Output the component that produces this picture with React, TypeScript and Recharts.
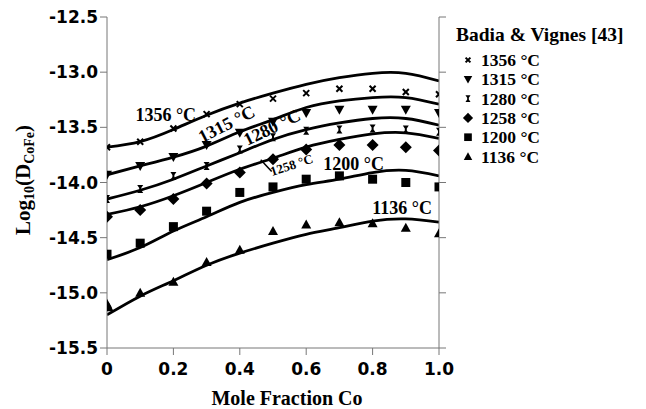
import React from 'react';
import { ComposedChart, Line, Scatter, XAxis, YAxis, ReferenceDot, ReferenceLine } from 'recharts';

const moleFractions = [0, 0.1, 0.2, 0.3, 0.4, 0.5, 0.6, 0.7, 0.8, 0.9, 1.0];
const xTicks = [0, 0.2, 0.4, 0.6, 0.8, 1.0];
const yTicks = [-15.5, -15.0, -14.5, -14.0, -13.5, -13.0, -12.5];

// fitted curves
const fit1356 = [-13.68, -13.63, -13.52, -13.39, -13.28, -13.19, -13.11, -13.05, -13.01, -13.01, -13.08];
const fit1315 = [-13.93, -13.85, -13.77, -13.67, -13.54, -13.43, -13.32, -13.26, -13.23, -13.23, -13.29];
const fit1280 = [-14.15, -14.07, -13.97, -13.85, -13.73, -13.61, -13.52, -13.46, -13.42, -13.42, -13.48];
const fit1258 = [-14.29, -14.22, -14.12, -14.0, -13.88, -13.78, -13.68, -13.61, -13.56, -13.55, -13.6];
const fit1200 = [-14.7, -14.59, -14.44, -14.31, -14.18, -14.09, -14.02, -13.97, -13.91, -13.89, -13.94];
const fit1136 = [-15.2, -15.03, -14.89, -14.75, -14.64, -14.55, -14.47, -14.41, -14.35, -14.33, -14.36];

// Badia & Vignes measurements
const pts1356 = [-13.68, -13.63, -13.51, -13.38, -13.29, -13.24, -13.19, -13.15, -13.15, -13.18, -13.2];
const pts1315 = [-13.93, -13.85, -13.77, -13.66, -13.55, -13.45, -13.37, -13.34, -13.34, -13.34, -13.37];
const pts1280 = [-14.15, -14.06, -13.94, -13.85, -13.7, -13.59, -13.53, -13.52, -13.51, -13.52, -13.54];
const pts1258 = [-14.31, -14.25, -14.15, -14.01, -13.91, -13.79, -13.7, -13.66, -13.66, -13.68, -13.71];
const pts1200 = [-14.65, -14.55, -14.4, -14.26, -14.09, -14.04, -13.97, -13.94, -13.97, -14.0, -14.04];
const pts1136 = [-15.1, -15.0, -14.9, -14.72, -14.61, -14.44, -14.38, -14.36, -14.37, -14.41, -14.46];

const legendTitle = 'Badia & Vignes [43]';
const tempLabels = ['1356 °C', '1315 °C', '1280 °C', '1258 °C', '1200 °C', '1136 °C'];

const rows = (vals: number[]) => moleFractions.map((x, i) => ({ x, y: vals[i] }));

const SERIF = '"Liberation Serif", "Times New Roman", serif';
const SANS = '"DejaVu Sans", Arial, sans-serif';
const AXIS = '#777';

type MarkerKind = 'cross' | 'down' | 'ibeam' | 'diamond' | 'square' | 'up';

const markerEl = (kind: MarkerKind, cx: number, cy: number, s = 1) => {
  switch (kind) {
    case 'cross':
      return (
        <g stroke="#000" strokeWidth={2}>
          <line x1={cx - 3 * s} y1={cy - 3 * s} x2={cx + 3 * s} y2={cy + 3 * s} />
          <line x1={cx - 3 * s} y1={cy + 3 * s} x2={cx + 3 * s} y2={cy - 3 * s} />
        </g>
      );
    case 'down':
      return <polygon points={`${cx - 5 * s},${cy - 4 * s} ${cx + 5 * s},${cy - 4 * s} ${cx},${cy + 5 * s}`} fill="#000" />;
    case 'ibeam':
      return (
        <polygon
          points={`${cx - 3 * s},${cy - 4 * s} ${cx + 3 * s},${cy - 4 * s} ${cx + 1 * s},${cy - 1 * s} ${cx + 1 * s},${cy + 1 * s} ${cx + 3 * s},${cy + 4 * s} ${cx - 3 * s},${cy + 4 * s} ${cx - 1 * s},${cy + 1 * s} ${cx - 1 * s},${cy - 1 * s}`}
          fill="#000"
        />
      );
    case 'diamond':
      return <polygon points={`${cx},${cy - 6 * s} ${cx + 6 * s},${cy} ${cx},${cy + 6 * s} ${cx - 6 * s},${cy}`} fill="#000" />;
    case 'square':
      return <rect x={cx - 4.5 * s} y={cy - 4.5 * s} width={9 * s} height={9 * s} fill="#000" />;
    case 'up':
    default:
      return <polygon points={`${cx - 5 * s},${cy + 4 * s} ${cx + 5 * s},${cy + 4 * s} ${cx},${cy - 5 * s}`} fill="#000" />;
  }
};

const shapeFor = (kind: MarkerKind) => (props: any) => markerEl(kind, props.cx, props.cy);

const series: { fit: number[]; pts: number[]; kind: MarkerKind }[] = [
  { fit: fit1356, pts: pts1356, kind: 'cross' },
  { fit: fit1315, pts: pts1315, kind: 'down' },
  { fit: fit1280, pts: pts1280, kind: 'ibeam' },
  { fit: fit1258, pts: pts1258, kind: 'diamond' },
  { fit: fit1200, pts: pts1200, kind: 'square' },
  { fit: fit1136, pts: pts1136, kind: 'up' },
];

// curve annotations: [x, y, text, rotation, fontSize]
const annotations: [number, number, string, number, number][] = [
  [0.177, -13.44, '1356 °C', 0, 18],
  [0.36, -13.47, '1315 °C', -27, 18],
  [0.497, -13.5, '1280 °C', -26, 18],
  [0.556, -13.84, '1258 °C', -18, 13],
  [0.743, -13.883, '1200 °C', 0, 18],
  [0.889, -14.29, '1136 °C', 0, 18],
];

const annShape = (text: string, rot: number, size: number) => (props: any) => {
  const { cx, cy } = props;
  if (rot === 0) {
    return (
      <text x={cx} y={cy} textAnchor="middle" fontFamily={SERIF} fontWeight="bold" fontSize={size} fill="#000">
        {text}
      </text>
    );
  }
  return (
    <text
      x={cx}
      y={cy}
      textAnchor="middle"
      dominantBaseline="central"
      transform={`rotate(${rot} ${cx} ${cy})`}
      fontFamily={SERIF}
      fontWeight="bold"
      fontSize={size}
      fill="#000"
    >
      {text}
    </text>
  );
};

const fmtX = (v: number) => (v === 0 ? '0' : v.toFixed(1));
const fmtY = (v: number) => v.toFixed(1);
const NoLabel = () => <g />;

const legendRows = [60, 79.3, 98.6, 117.9, 137.2, 156.5];

export default function App() {
  return (
    <div style={{ position: 'absolute', left: 0, top: 0, width: 646, height: 409, background: '#fff' }}>
      <ComposedChart width={646} height={409} margin={{ top: 17, right: 197, bottom: 31, left: 0 }}>
        <XAxis
          type="number"
          dataKey="x"
          domain={[0, 1]}
          ticks={xTicks}
          tickFormatter={fmtX}
          allowDataOverflow
          height={30}
          stroke={AXIS}
          tickSize={7}
          tickMargin={8}
          tick={{ fill: '#000', fontFamily: SANS, fontWeight: 'bold', fontSize: 17 }}
        />
        <YAxis
          yAxisId="left"
          type="number"
          dataKey="y"
          domain={[-15.5, -12.5]}
          ticks={yTicks}
          tickFormatter={fmtY}
          allowDataOverflow
          width={107}
          stroke={AXIS}
          tickSize={7}
          tickMargin={2}
          tick={{ fill: '#000', fontFamily: SANS, fontWeight: 'bold', fontSize: 17 }}
        />
        <YAxis
          yAxisId="right"
          orientation="right"
          type="number"
          dataKey="y"
          domain={[-15.5, -12.5]}
          ticks={yTicks}
          allowDataOverflow
          width={10}
          stroke={AXIS}
          tickSize={7}
          tick={NoLabel}
        />
        {series.map((s, i) => (
          <Line
            key={`fit${i}`}
            yAxisId="left"
            data={rows(s.fit)}
            dataKey="y"
            type="natural"
            stroke="#000"
            strokeWidth={2.8}
            dot={false}
            activeDot={false}
            isAnimationActive={false}
          />
        ))}
        {series.map((s, i) => (
          <Scatter
            key={`pts${i}`}
            yAxisId="left"
            data={rows(s.pts)}
            dataKey="y"
            shape={shapeFor(s.kind)}
            isAnimationActive={false}
          />
        ))}
        <Scatter yAxisId="left" data={[{ x: 0.005, y: -15.13 }]} dataKey="y" shape={shapeFor('up')} isAnimationActive={false} />
        <ReferenceLine
          yAxisId="left"
          segment={[{ x: 0.463, y: -13.793 }, { x: 0.496, y: -13.9 }]}
          stroke="#000"
          strokeWidth={1.5}
          ifOverflow="visible"
        />
        {annotations.map(([x, y, t, r, fs], i) => (
          <ReferenceDot key={`ann${i}`} yAxisId="left" x={x} y={y} r={0} ifOverflow="visible" shape={annShape(t, r, fs)} />
        ))}
      </ComposedChart>
      <svg width={646} height={409} style={{ position: 'absolute', left: 0, top: 0, pointerEvents: 'none' }}>
        <text
          transform="translate(30,180) rotate(-90)"
          textAnchor="middle"
          fontFamily={SERIF}
          fontWeight="bold"
          fontSize={21}
          fill="#000"
        >
          Log
          <tspan fontSize={14} dy={4}>10</tspan>
          <tspan dy={-4}>(D</tspan>
          <tspan fontSize={14} dy={4}>CoFe</tspan>
          <tspan dy={-4}>)</tspan>
        </text>
        <text x={287} y={405} textAnchor="middle" fontFamily={SERIF} fontWeight="bold" fontSize={20} fill="#000">
          Mole Fraction Co
        </text>
        <text x={456} y={41} fontFamily={SERIF} fontWeight="bold" fontSize={19.5} fill="#000">
          {legendTitle}
        </text>
        {series.map((s, i) => {
          const cy = legendRows[i];
          return (
            <g key={`leg${i}`}>
              {markerEl(s.kind, 468, cy, s.kind === 'cross' ? 0.8 : 0.85)}
              <text x={481} y={cy + 6} fontFamily={SERIF} fontWeight="bold" fontSize={17.5} fill="#000">
                {tempLabels[i]}
              </text>
            </g>
          );
        })}
      </svg>
    </div>
  );
}
